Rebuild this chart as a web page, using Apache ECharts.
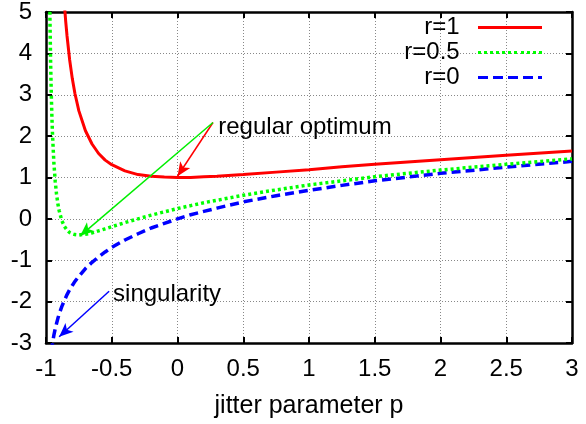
<!DOCTYPE html>
<html><head><meta charset="utf-8">
<script src="https://cdn.jsdelivr.net/npm/echarts@6/dist/echarts.min.js"></script>
<style>html,body{margin:0;padding:0;background:#fff}#c{width:586px;height:424px}</style>
</head><body><div id="c"></div>
<script>
// r = 1
const pRed = [-0.87,-0.86,-0.85,-0.84,-0.82,-0.8,-0.78,-0.75,-0.7,-0.65,-0.6,-0.55,-0.5,-0.4,-0.3,-0.2,-0.1,0,0.1,0.2,0.3,0.5,0.75,1,1.25,1.5,2,2.5,3];
const yRed = [5.65,5.18,4.77,4.42,3.84,3.39,3.03,2.61,2.13,1.81,1.58,1.42,1.31,1.16,1.07,1.03,1.01,1.00,1.00,1.02,1.03,1.07,1.13,1.19,1.26,1.32,1.43,1.54,1.64];
// r = 0.5
const pGreen = [-0.975,-0.97,-0.965,-0.96,-0.955,-0.95,-0.94,-0.93,-0.92,-0.91,-0.9,-0.88,-0.86,-0.84,-0.82,-0.8,-0.78,-0.75,-0.7,-0.65,-0.6,-0.55,-0.5,-0.4,-0.3,-0.2,-0.1,0,0.1,0.2,0.3,0.5,0.75,1,1.25,1.5,2,2.5,3];
const yGreen = [6.31,4.83,3.79,3.03,2.45,2.00,1.35,0.91,0.60,0.37,0.20,-0.04,-0.18,-0.27,-0.33,-0.36,-0.38,-0.39,-0.37,-0.34,-0.29,-0.24,-0.19,-0.09,0.00,0.09,0.17,0.25,0.32,0.39,0.45,0.57,0.70,0.82,0.92,1.02,1.18,1.32,1.45];
// r = 0
const pBlue = [-0.96,-0.95,-0.94,-0.93,-0.92,-0.91,-0.9,-0.88,-0.86,-0.84,-0.82,-0.8,-0.78,-0.75,-0.7,-0.65,-0.6,-0.55,-0.5,-0.4,-0.3,-0.2,-0.1,0,0.1,0.2,0.3,0.5,0.75,1,1.25,1.5,2,2.5,3];
const yBlue = [-3.22,-3.00,-2.81,-2.66,-2.53,-2.41,-2.30,-2.12,-1.97,-1.83,-1.71,-1.61,-1.51,-1.39,-1.20,-1.05,-0.92,-0.80,-0.69,-0.51,-0.36,-0.22,-0.11,0,0.10,0.18,0.26,0.41,0.56,0.69,0.81,0.92,1.10,1.25,1.39];

const seriesNames = ['r=1','r=0.5','r=0'];
const xTitle = 'jitter parameter p';
const optText = 'regular optimum';
const singText = 'singularity';
// annotation anchor points (data coords)
const optArrowStart = [0.27, 2.33];
const redMin = [0.0, 1.03];
const greenMin = [-0.74, -0.41];
const singArrowStart = [-0.52, -1.75];
const singArrowEnd = [-0.9, -2.85];
const optLabelAt = [0.31, 2.2];
const singLabelAt = [-0.49, -1.82];

const zip = (a,b)=>a.map((v,i)=>[v,b[i]]);
const FONT = 'Liberation Sans';
const FS = 24;
const chart = echarts.init(document.getElementById('c'));

const axCommon = {
  axisLine:{show:true,onZero:false,lineStyle:{color:'#000',width:2.5}},
  axisTick:{show:true,inside:true,length:6,lineStyle:{color:'#000',width:2}}
};
const gridLine = {show:true,lineStyle:{color:'#888',type:[1,2],width:1}};

const iconRed = 'path://M0,0h64v3h-64z';
const iconGreen = 'path://M0,0h3v3h-3z M6,0h3v3h-3z M12,0h3v3h-3z M18,0h3v3h-3z M24,0h3v3h-3z M30,0h3v3h-3z M36,0h3v3h-3z M43,0h3v3h-3z M49,0h3v3h-3z M55,0h3v3h-3z M61,0h3v3h-3z';
const iconBlue = 'path://M0,0h10v3h-10z M15,0h10v3h-10z M30,0h10v3h-10z M45,0h10v3h-10z M60,0h4v3h-4z';

chart.setOption({
  animation:false,
  textStyle:{fontFamily:FONT},
  grid:{left:46,right:14,top:11,bottom:78},
  legend:{
    orient:'vertical', right:44, top:15, align:'right', padding:0,
    itemWidth:64, itemHeight:3, itemGap:0,
    textStyle:{fontSize:FS,color:'#000',fontFamily:FONT,lineHeight:25},
    formatter:n=>n+'  ',
    data:[{name:seriesNames[0],icon:iconRed},{name:seriesNames[1],icon:iconGreen},{name:seriesNames[2],icon:iconBlue}]
  },
  xAxis:[
    Object.assign({type:'value',min:-1,max:3,interval:0.5,position:'bottom',
      name:xTitle,nameLocation:'middle',nameGap:51,
      nameTextStyle:{fontSize:25,color:'#000',fontFamily:FONT},
      axisLabel:{fontSize:FS,color:'#000',margin:14,fontFamily:FONT},
      splitLine:gridLine},axCommon),
    Object.assign({type:'value',min:-1,max:3,interval:0.5,position:'top',axisLabel:{show:false},splitLine:{show:false}},axCommon)
  ],
  yAxis:[
    Object.assign({type:'value',min:-3,max:5,interval:1,position:'left',
      axisLabel:{fontSize:FS,color:'#000',margin:14,fontFamily:FONT},
      splitLine:gridLine},axCommon),
    Object.assign({type:'value',min:-3,max:5,interval:1,position:'right',axisLabel:{show:false},splitLine:{show:false}},axCommon)
  ],
  series:[
    {name:seriesNames[0],type:'line',symbol:'none',clip:true,data:zip(pRed,yRed),
     lineStyle:{color:'#ff0000',width:3},itemStyle:{color:'#ff0000'},z:3,
     markLine:{silent:true,symbol:['none','arrow'],symbolSize:[9,14],label:{show:false},
       lineStyle:{color:'#ff0000',width:1.5,type:'solid'},
       data:[[{coord:optArrowStart},{coord:redMin}]]}},
    {name:seriesNames[1],type:'line',symbol:'none',clip:true,data:zip(pGreen,yGreen),
     lineStyle:{color:'#00ff00',width:3.5,type:[3,3]},itemStyle:{color:'#00ff00'},z:2,
     markLine:{silent:true,symbol:['none','arrow'],symbolSize:[9,14],label:{show:false},
       lineStyle:{color:'#00ee00',width:1.5,type:'solid'},
       data:[[{coord:optArrowStart},{coord:greenMin}]]},
     markPoint:{silent:true,symbol:'circle',symbolSize:0,
       label:{show:true,position:'right',distance:0,color:'#000',fontSize:FS,fontFamily:FONT,
         formatter:p=>p.name},
       data:[{name:optText,coord:optLabelAt}]}},
    {name:seriesNames[2],type:'line',symbol:'none',clip:true,data:zip(pBlue,yBlue),
     lineStyle:{color:'#0000ff',width:3.5,type:[9,5]},itemStyle:{color:'#0000ff'},z:1,
     markLine:{silent:true,symbol:['none','arrow'],symbolSize:[9,14],label:{show:false},
       lineStyle:{color:'#0000ff',width:1.5,type:'solid'},
       data:[[{coord:singArrowStart},{coord:singArrowEnd}]]},
     markPoint:{silent:true,symbol:'circle',symbolSize:0,
       label:{show:true,position:'right',distance:0,color:'#000',fontSize:FS,fontFamily:FONT,
         formatter:p=>p.name},
       data:[{name:singText,coord:singLabelAt}]}}
  ]
});
</script></body></html>
